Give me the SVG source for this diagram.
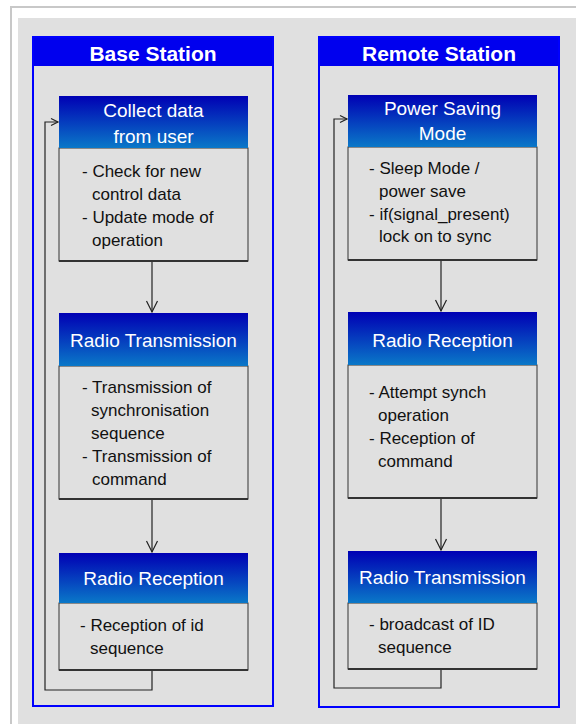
<svg xmlns="http://www.w3.org/2000/svg" width="576" height="724" viewBox="0 0 576 724">
<defs>
<linearGradient id="hg" x1="0" y1="0" x2="0" y2="1">
<stop offset="0" stop-color="#0000b4"/>
<stop offset="1" stop-color="#0a78c8"/>
</linearGradient>
<marker id="ah" markerUnits="userSpaceOnUse" markerWidth="14" markerHeight="14" refX="12" refY="7" orient="auto">
<path d="M1,1.5 L12,7 L1,12.5" fill="none" stroke="#222" stroke-width="1.2"/>
</marker>
<marker id="as" markerUnits="userSpaceOnUse" markerWidth="10" markerHeight="10" refX="8" refY="5" orient="auto">
<path d="M1,1.5 L8,5 L1,8.5" fill="none" stroke="#222" stroke-width="1.2"/>
</marker>
</defs>
<style>
.panel{fill:none;stroke:#0000ff;stroke-width:2}
.phead{fill:#0000ee}
.ptitle{font-family:"Liberation Sans",Arial,sans-serif;font-size:21px;font-weight:bold;fill:#fff;text-anchor:middle}
.nhead{fill:url(#hg)}
.nbody{fill:#e0e0e0;stroke:#333;stroke-width:1}
.nbot{stroke:#333;stroke-width:2}
.ntitle{font-family:"Liberation Sans",Arial,sans-serif;font-size:19px;fill:#fff;text-anchor:middle}
.btext{font-family:"Liberation Sans",Arial,sans-serif;font-size:17px;fill:#111}
.conn{fill:none;stroke:#222;stroke-width:1.2}
</style>
<rect x="0" y="0" width="576" height="724" fill="#fff"/>
<path d="M11,724 V7 H576" fill="none" stroke="#c8c8c8" stroke-width="2"/>
<rect x="18" y="18" width="558" height="706" fill="#e0e0e0"/>

<g id="base-station">
<rect class="phead" x="33" y="37" width="240" height="29"/>
<rect class="panel" x="33" y="37" width="240" height="669"/>
<text class="ptitle" x="153" y="61">Base Station</text>
</g>
<g id="remote-station">
<rect class="phead" x="319" y="37" width="240" height="29"/>
<rect class="panel" x="319" y="37" width="240" height="670"/>
<text class="ptitle" x="439" y="61">Remote Station</text>
</g>

<g id="connectors">
<line class="conn" x1="152" y1="261" x2="152" y2="312" marker-end="url(#ah)"/>
<line class="conn" x1="152" y1="499" x2="152" y2="552" marker-end="url(#ah)"/>
<path class="conn" d="M152,670 V690 H45 V122 H58" marker-end="url(#as)"/>
<line class="conn" x1="441" y1="260" x2="441" y2="311" marker-end="url(#ah)"/>
<line class="conn" x1="441" y1="498" x2="441" y2="550" marker-end="url(#ah)"/>
<path class="conn" d="M441,669 V688 H334 V119 H347" marker-end="url(#as)"/>
</g>

<g id="collect-data">
<rect class="nbody" x="59" y="148" width="189" height="113"/>
<line class="nbot" x1="59" y1="261" x2="248" y2="261"/>
<rect class="nhead" x="59" y="96" width="189" height="52"/>
<text class="ntitle" x="153.5" y="117">Collect data</text>
<text class="ntitle" x="153.5" y="143">from user</text>
<text class="btext" x="82" y="177">- Check for new</text>
<text class="btext" x="92" y="200">control data</text>
<text class="btext" x="82" y="223">- Update mode of</text>
<text class="btext" x="92" y="246">operation</text>
</g>

<g id="base-radio-transmission">
<rect class="nbody" x="59" y="366" width="189" height="133"/>
<line class="nbot" x1="59" y1="499" x2="248" y2="499"/>
<rect class="nhead" x="59" y="313" width="189" height="53"/>
<text class="ntitle" x="153.5" y="347">Radio Transmission</text>
<text class="btext" x="82" y="393">- Transmission of</text>
<text class="btext" x="91" y="416">synchronisation</text>
<text class="btext" x="91" y="439">sequence</text>
<text class="btext" x="82" y="462">- Transmission of</text>
<text class="btext" x="92" y="485">command</text>
</g>

<g id="base-radio-reception">
<rect class="nbody" x="59" y="603" width="189" height="67"/>
<line class="nbot" x1="59" y1="670" x2="248" y2="670"/>
<rect class="nhead" x="59" y="553" width="189" height="50"/>
<text class="ntitle" x="153.5" y="585">Radio Reception</text>
<text class="btext" x="80" y="631">- Reception of id</text>
<text class="btext" x="90" y="654">sequence</text>
</g>

<g id="power-saving">
<rect class="nbody" x="348" y="147" width="189" height="113"/>
<line class="nbot" x1="348" y1="260" x2="537" y2="260"/>
<rect class="nhead" x="348" y="95" width="189" height="52"/>
<text class="ntitle" x="442.5" y="115">Power Saving</text>
<text class="ntitle" x="442.5" y="140">Mode</text>
<text class="btext" x="369" y="174">- Sleep Mode /</text>
<text class="btext" x="379" y="197">power save</text>
<text class="btext" x="369" y="220">- if(signal_present)</text>
<text class="btext" x="379" y="242">lock on to sync</text>
</g>

<g id="remote-radio-reception">
<rect class="nbody" x="348" y="365" width="189" height="133"/>
<line class="nbot" x1="348" y1="498" x2="537" y2="498"/>
<rect class="nhead" x="348" y="312" width="189" height="53"/>
<text class="ntitle" x="442.5" y="347">Radio Reception</text>
<text class="btext" x="369" y="398">- Attempt synch</text>
<text class="btext" x="378" y="421">operation</text>
<text class="btext" x="369" y="444">- Reception of</text>
<text class="btext" x="378" y="467">command</text>
</g>

<g id="remote-radio-transmission">
<rect class="nbody" x="348" y="603" width="189" height="66"/>
<line class="nbot" x1="348" y1="669" x2="537" y2="669"/>
<rect class="nhead" x="348" y="551" width="189" height="52"/>
<text class="ntitle" x="442.5" y="584">Radio Transmission</text>
<text class="btext" x="369" y="630">- broadcast of ID</text>
<text class="btext" x="378" y="653">sequence</text>
</g>
</svg>
